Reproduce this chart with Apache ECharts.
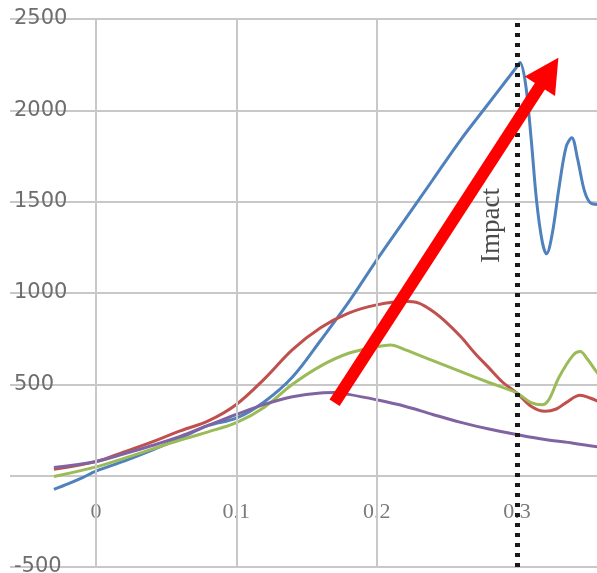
<!DOCTYPE html>
<html>
<head>
<meta charset="utf-8">
<script src="https://cdn.jsdelivr.net/npm/echarts@6/dist/echarts.min.js"></script>
<style>
html,body{margin:0;padding:0;background:#fff;}
#chart{width:597px;height:573px;}
</style>
</head>
<body>
<div id="chart"></div>
<script>
// ---- data ----
const yTicks = [-500, 0, 500, 1000, 1500, 2000, 2500];
const xTicks = [0, 0.1, 0.2, 0.3];

const blueX = [-0.03,-0.02,-0.01,0,0.02,0.04,0.06,0.08,0.1,0.12,0.14,0.16,0.18,0.2,0.22,0.24,0.26,0.28,0.29,0.3,0.302,0.306,0.31,0.314,0.318,0.321,0.325,0.33,0.335,0.339,0.343,0.348,0.352,0.357,0.36];
const blueY = [-75,-45,-12,25,80,140,205,275,315,405,540,740,950,1180,1400,1620,1840,2040,2140,2240,2262,2150,1850,1500,1280,1215,1320,1580,1800,1850,1740,1560,1495,1485,1490];

const redX = [-0.03,0,0.02,0.04,0.06,0.08,0.1,0.12,0.14,0.16,0.18,0.2,0.22,0.23,0.24,0.25,0.26,0.27,0.28,0.29,0.3,0.31,0.32,0.328,0.335,0.345,0.352,0.36];
const redY = [35,77,130,185,245,300,390,530,690,810,890,935,955,945,900,837,760,670,590,510,452,380,352,365,400,440,425,400];

const greenX = [-0.03,0,0.02,0.04,0.06,0.08,0.1,0.12,0.14,0.16,0.18,0.2,0.21,0.22,0.24,0.26,0.28,0.3,0.31,0.318,0.323,0.33,0.34,0.345,0.35,0.357,0.36];
const greenY = [-5,48,95,145,195,240,290,375,500,600,670,705,715,690,630,570,510,452,400,388,420,540,660,680,640,565,540];

const purpleX = [-0.03,0,0.02,0.04,0.06,0.08,0.1,0.12,0.14,0.16,0.17,0.18,0.2,0.22,0.24,0.26,0.28,0.3,0.32,0.34,0.36];
const purpleY = [45,78,120,165,215,275,335,390,432,453,455,445,415,380,335,292,255,225,198,178,155];

const impactX = 0.3;
const impactLabel = 'Impact';
const impactLabelAt = [0.2823, 1370];
const arrowFrom = [0.170, 399];
const arrowTo = [0.3229, 2210];

// ---- chart ----
function pairs(xs, ys){ return xs.map((x,i)=>[x, ys[i]]); }

const chart = echarts.init(document.getElementById('chart'), null, {renderer:'canvas'});

const lineSeries = (name, xs, ys, color) => ({
  type:'line', name, data: pairs(xs, ys), smooth: 0.35, showSymbol:false,
  lineStyle:{color, width:3}, itemStyle:{color}, silent:true
});

chart.setOption({
  animation:false,
  backgroundColor:'#ffffff',
  grid:{left:10, right:0, top:19, bottom:6, containLabel:false, outerBoundsMode:'none'},
  xAxis:{
    type:'value', min:-0.0613, max:0.357,
    axisLine:{show:false, onZero:false}, axisTick:{show:false},
    splitLine:{show:false},
    axisLabel:{
      customValues: xTicks, inside:true, margin:44,
      color:'#7a7a7a', fontSize:22, fontFamily:'Liberation Serif',
      formatter: v => String(v)
    }
  },
  yAxis:{
    type:'value', min:-500, max:2500, interval:500,
    axisLine:{show:false}, axisTick:{show:false},
    splitLine:{lineStyle:{color:'#c8c8c8', width:2}},
    axisLabel:{
      inside:true, margin:4, color:'#6e6e6e', fontSize:21,
      fontFamily:'DejaVu Sans', verticalAlign:'middle',
      formatter: v => (v === 0 ? '' : String(v))
    }
  },
  series:[
    {
      type:'line', data:[[0,0]], showSymbol:false, lineStyle:{opacity:0}, silent:true,
      markLine:{
        silent:true, symbol:['none','none'], label:{show:false},
        lineStyle:{color:'#c8c8c8', width:2, type:'solid'},
        data: xTicks.slice(0,3).map(v=>({xAxis:v}))
      }
    },
    lineSeries('Blue', blueX, blueY, '#4F81BD'),
    lineSeries('Red', redX, redY, '#C0504D'),
    lineSeries('Green', greenX, greenY, '#9BBB59'),
    lineSeries('Purple', purpleX, purpleY, '#8064A2'),
    {
      type:'line', data:[[impactX,0]], showSymbol:false, lineStyle:{opacity:0}, silent:true,
      markLine:{
        silent:true, symbol:['none','none'], label:{show:false},
        lineStyle:{color:'#1a1a1a', width:5, type:[4,6]},
        data:[{xAxis:impactX}]
      },
      markPoint:{
        silent:true, symbol:'circle', symbolSize:2,
        itemStyle:{color:'rgba(255,255,255,0)'},
        label:{show:true, formatter:impactLabel, rotate:90, position:'inside',
          color:'#4a4a4a', fontSize:27, fontFamily:'Liberation Serif'},
        data:[{coord:impactLabelAt}]
      }
    },
    {
      type:'line', data:[[impactX,0]], showSymbol:false, lineStyle:{opacity:0}, silent:true, z:5,
      markLine:{
        silent:true, z:5,
        symbol:['none','path://M5,0L10,10L0,10Z'], symbolSize:[36,34],
        label:{show:false},
        lineStyle:{color:'#ff0000', width:12, type:'solid', cap:'butt', opacity:1},
        itemStyle:{color:'#ff0000'},
        data:[[{coord:arrowFrom},{coord:arrowTo}]]
      }
    }
  ]
});
</script>
</body>
</html>
